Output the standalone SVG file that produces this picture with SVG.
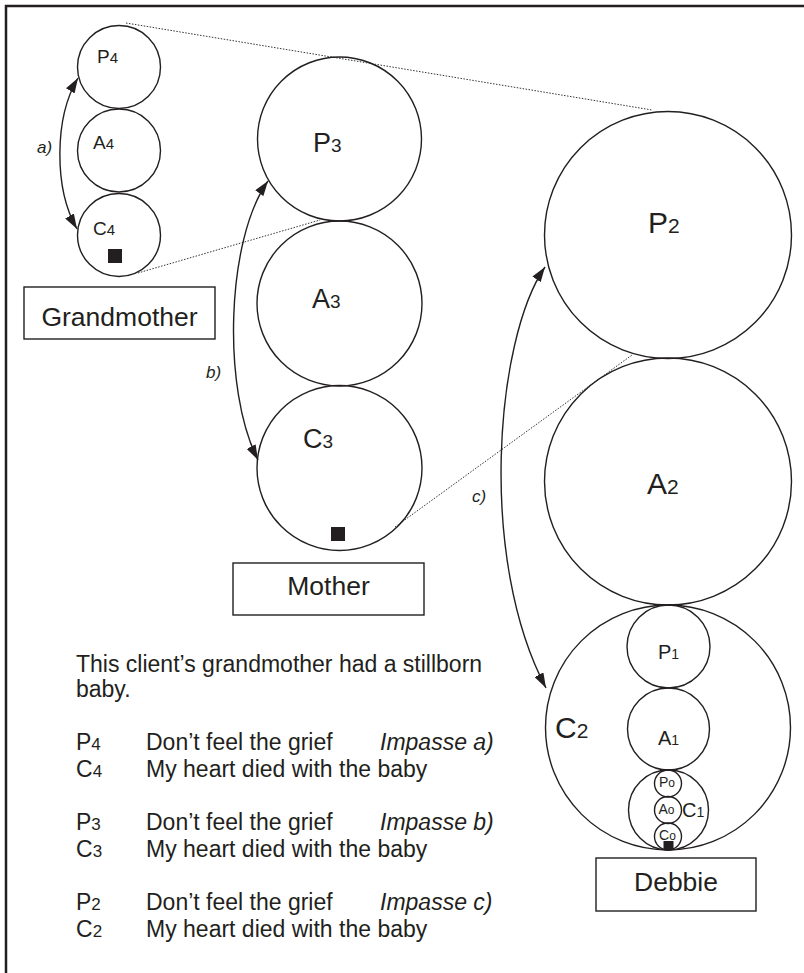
<svg xmlns="http://www.w3.org/2000/svg" width="804" height="973" viewBox="0 0 804 973">
<style>
text{font-family:"Liberation Sans",Arial,sans-serif;fill:#231f20}
.c{fill:none;stroke:#231f20;stroke-width:1.4}
.box{fill:#fff;stroke:#231f20;stroke-width:1.4}
.arr{fill:none;stroke:#231f20;stroke-width:1.4;marker-start:url(#ah);marker-end:url(#ah)}
.dot{fill:none;stroke:#333;stroke-width:1;stroke-dasharray:1.5 1.5}
.sq{fill:#231f20}
.lab{font-size:26.5px;text-anchor:middle}
.it{font-style:italic}
</style>
<defs>
<marker id="ah" viewBox="0 0 15 10" refX="15" refY="5" markerWidth="15" markerHeight="10" markerUnits="userSpaceOnUse" orient="auto-start-reverse">
<path d="M0,0 L15,5 L0,10 Z" fill="#231f20"/>
</marker>
</defs>
<rect width="804" height="973" fill="#fff"/>
<path d="M6,973 V6 H804" fill="none" stroke="#231f20" stroke-width="2.5"/>

<g id="connectors">
<path class="dot" d="M126,23 L652,110"/>
<path class="dot" d="M138,273 L320,220"/>
<path class="dot" d="M395,527 L632,355"/>
<path class="arr" d="M78,78 C54,118 54,189 77,229"/>
<path class="arr" d="M268,181 C226,240 222,390 258,460"/>
<path class="arr" d="M545,267 C495,340 478,560 546,688"/>
<text x="37" y="153" font-size="17" class="it">a)</text>
<text x="206" y="378" font-size="17" class="it">b)</text>
<text x="472" y="502" font-size="17" class="it">c)</text>
</g>

<g id="P4"><circle class="c" cx="119" cy="67" r="41.5"/><text x="97" y="63" font-size="19">P<tspan font-size="15">4</tspan></text></g>
<g id="A4"><circle class="c" cx="119" cy="150.5" r="41.5"/><text x="93" y="149" font-size="19">A<tspan font-size="15">4</tspan></text></g>
<g id="C4"><circle class="c" cx="119" cy="235" r="41.5"/><text x="93" y="235" font-size="19">C<tspan font-size="15">4</tspan></text><rect class="sq" x="108" y="249" width="14" height="14"/></g>
<g id="grandmother"><rect class="box" x="24" y="287" width="191" height="52"/><text class="lab" x="119.5" y="326">Grandmother</text></g>

<g id="P3"><circle class="c" cx="339.5" cy="139" r="82"/><text x="313" y="152" font-size="27">P<tspan font-size="19">3</tspan></text></g>
<g id="A3"><circle class="c" cx="339.5" cy="303.5" r="82.5"/><text x="312" y="308" font-size="27">A<tspan font-size="19">3</tspan></text></g>
<g id="C3"><circle class="c" cx="339.5" cy="468" r="82.5"/><text x="303" y="448" font-size="27">C<tspan font-size="19">3</tspan></text><rect class="sq" x="331" y="527" width="14" height="14"/></g>
<g id="mother"><rect class="box" x="233" y="563" width="191" height="52"/><text class="lab" x="328.5" y="595">Mother</text></g>

<g id="P2"><circle class="c" cx="668" cy="235" r="123.5"/><text x="648" y="233" font-size="30">P<tspan font-size="21">2</tspan></text></g>
<g id="A2"><circle class="c" cx="668" cy="481.5" r="123.5"/><text x="647" y="494" font-size="30">A<tspan font-size="21">2</tspan></text></g>
<g id="C2"><circle class="c" cx="668" cy="727.5" r="122.5"/><text x="555" y="738" font-size="30">C<tspan font-size="21">2</tspan></text></g>
<g id="P1"><circle class="c" cx="668.5" cy="646.5" r="41.5"/><text x="658" y="659" font-size="20">P<tspan font-size="14">1</tspan></text></g>
<g id="A1"><circle class="c" cx="668.5" cy="729" r="41"/><text x="658" y="745" font-size="20">A<tspan font-size="14">1</tspan></text></g>
<g id="C1"><circle class="c" cx="668.5" cy="810" r="40"/><text x="682" y="817" font-size="20">C<tspan font-size="14">1</tspan></text></g>
<g id="Po"><circle class="c" cx="668" cy="783.5" r="13.5"/><text x="659" y="787" font-size="14">P<tspan font-size="12">o</tspan></text></g>
<g id="Ao"><circle class="c" cx="668" cy="810" r="13.5"/><text x="658.5" y="814" font-size="14">A<tspan font-size="12">o</tspan></text></g>
<g id="Co"><circle class="c" cx="668" cy="836.5" r="13.5"/><text x="659" y="840" font-size="14">C<tspan font-size="12">o</tspan></text><rect class="sq" x="663.5" y="841" width="10" height="9"/></g>
<g id="debbie"><rect class="box" x="596" y="858" width="160" height="53"/><text class="lab" x="676" y="891">Debbie</text></g>

<g id="notes">
<text x="76" y="672" font-size="23">This client’s grandmother had a stillborn</text>
<text x="76" y="697" font-size="23">baby.</text>
<text x="76" y="750" font-size="23">P<tspan font-size="17">4</tspan></text>
<text x="146" y="750" font-size="23">Don’t feel the grief</text>
<text x="380" y="750" font-size="23" class="it">Impasse a)</text>
<text x="76" y="777" font-size="23">C<tspan font-size="17">4</tspan></text>
<text x="146" y="777" font-size="23">My heart died with the baby</text>
<text x="76" y="830" font-size="23">P<tspan font-size="17">3</tspan></text>
<text x="146" y="830" font-size="23">Don’t feel the grief</text>
<text x="380" y="830" font-size="23" class="it">Impasse b)</text>
<text x="76" y="857" font-size="23">C<tspan font-size="17">3</tspan></text>
<text x="146" y="857" font-size="23">My heart died with the baby</text>
<text x="76" y="910" font-size="23">P<tspan font-size="17">2</tspan></text>
<text x="146" y="910" font-size="23">Don’t feel the grief</text>
<text x="380" y="910" font-size="23" class="it">Impasse c)</text>
<text x="76" y="937" font-size="23">C<tspan font-size="17">2</tspan></text>
<text x="146" y="937" font-size="23">My heart died with the baby</text>
</g>
</svg>
